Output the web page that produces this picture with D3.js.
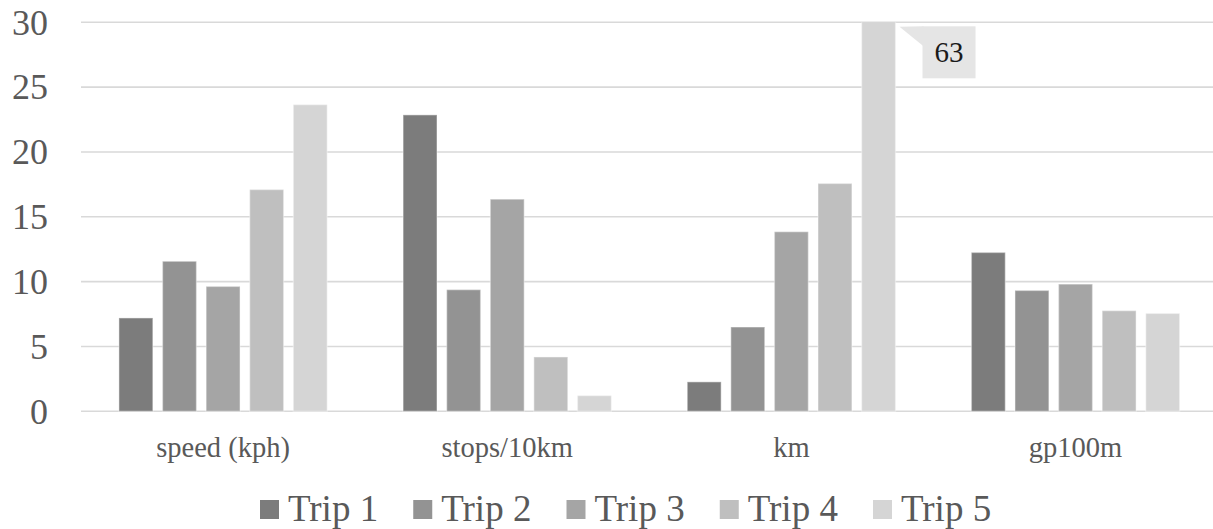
<!DOCTYPE html>
<html>
<head>
<meta charset="utf-8">
<script src="https://cdn.jsdelivr.net/npm/d3@7/dist/d3.min.js"></script>
<style>
  html, body { margin: 0; padding: 0; background: #fff; }
  svg { display: block; }
  text { font-family: "Liberation Serif", "Times New Roman", Times, serif; }
</style>
</head>
<body>
<svg id="chart" width="1213" height="529"></svg>
<script>
const categories = ["speed (kph)", "stops/10km", "km", "gp100m"];
const seriesNames = ["Trip 1", "Trip 2", "Trip 3", "Trip 4", "Trip 5"];
const trip1 = [7.2, 22.86, 2.27, 12.25];
const trip2 = [11.57, 9.38, 6.5, 9.32];
const trip3 = [9.63, 16.36, 13.85, 9.81];
const trip4 = [17.1, 4.19, 17.57, 7.76];
const trip5 = [23.65, 1.21, 63, 7.55];
const yTicks = [0, 5, 10, 15, 20, 25, 30];
const colors = ["#7c7c7c", "#939393", "#a5a5a5", "#bfbfbf", "#d5d5d5"];

const series = [trip1, trip2, trip3, trip4, trip5];
const FONT = "Liberation Serif, Times New Roman, serif";

const svg = d3.select("#chart");
const W = 1213;
const plot = { left: 81, right: 1217.6, top: 22.3, bottom: 411.3 };

const y = d3.scaleLinear().domain([0, 30]).range([plot.bottom, plot.top]);
const x0 = d3.scaleBand().domain(categories).range([plot.left, plot.right])
  .paddingInner(0.267).paddingOuter(0.1335);
const x1 = d3.scaleBand().domain(seriesNames).range([0, x0.bandwidth()])
  .paddingInner(0.222).paddingOuter(0);
const color = d3.scaleOrdinal().domain(seriesNames).range(colors);

// gridlines
svg.append("g").selectAll("line").data(yTicks).join("line")
  .attr("x1", plot.left).attr("x2", W)
  .attr("y1", d => y(d)).attr("y2", d => y(d))
  .attr("stroke", "#d9d9d9").attr("stroke-width", 1.6);

// y tick labels
svg.append("g").selectAll("text").data(yTicks).join("text")
  .attr("x", 48).attr("y", d => y(d))
  .attr("text-anchor", "end").attr("dy", "0.34em")
  .attr("font-family", FONT)
  .attr("font-size", 36).attr("fill", "#595959")
  .text(d => d);

// clip
svg.append("defs").append("clipPath").attr("id", "plotclip")
  .append("rect").attr("x", 0).attr("y", plot.top).attr("width", W).attr("height", plot.bottom - plot.top + 2);

// bars
const barData = [];
categories.forEach((c, ci) => {
  seriesNames.forEach((s, si) => {
    barData.push({ cat: c, name: s, value: series[si][ci] });
  });
});

svg.append("g").attr("clip-path", "url(#plotclip)")
  .selectAll("rect").data(barData).join("rect")
  .attr("x", d => x0(d.cat) + x1(d.name))
  .attr("width", x1.bandwidth())
  .attr("y", d => y(d.value))
  .attr("height", d => y(0) - y(d.value))
  .attr("fill", d => color(d.name))
  .attr("stroke", "#ffffff").attr("stroke-opacity", 0.35).attr("stroke-width", 1.4);

// category labels
svg.append("g").selectAll("text").data(categories).join("text")
  .attr("x", d => x0(d) + x0.bandwidth() / 2).attr("y", 457)
  .attr("text-anchor", "middle")
  .attr("font-family", FONT)
  .attr("font-size", 28.5).attr("fill", "#595959")
  .text(d => d);

// data callout for clipped bar (km, Trip 5)
const big = barData.find(d => d.value > 30);
const bx = x0(big.cat) + x1(big.name) + x1.bandwidth();
const ty = y(30);
const box = { x: bx + 27, y: ty + 4, w: 53, h: 52 };
const callout = svg.append("g");
callout.append("path")
  .attr("d", `M${bx + 4},${ty + 4.5} L${box.x + 1},${box.y} L${box.x + 1},${box.y + 20} Z`)
  .attr("fill", "#e5e5e5");
callout.append("rect").attr("x", box.x).attr("y", box.y).attr("width", box.w).attr("height", box.h)
  .attr("fill", "#e5e5e5");
callout.append("text").attr("x", box.x + box.w / 2).attr("y", box.y + box.h / 2)
  .attr("dy", "0.35em").attr("text-anchor", "middle")
  .attr("font-family", FONT)
  .attr("font-size", 29).attr("fill", "#1a1a1a")
  .text(d3.format("d")(big.value));

// legend
const legend = svg.append("g");
const legStart = 260, legStep = 153.25;
const item = legend.selectAll("g").data(seriesNames).join("g")
  .attr("transform", (d, i) => `translate(${legStart + i * legStep},0)`);
item.append("rect").attr("x", 0).attr("y", 500).attr("width", 19).attr("height", 19)
  .attr("fill", d => color(d));
item.append("text").attr("x", 28).attr("y", 521)
  .attr("font-family", FONT)
  .attr("font-size", 37).attr("fill", "#595959")
  .text(d => d);
</script>
</body>
</html>
